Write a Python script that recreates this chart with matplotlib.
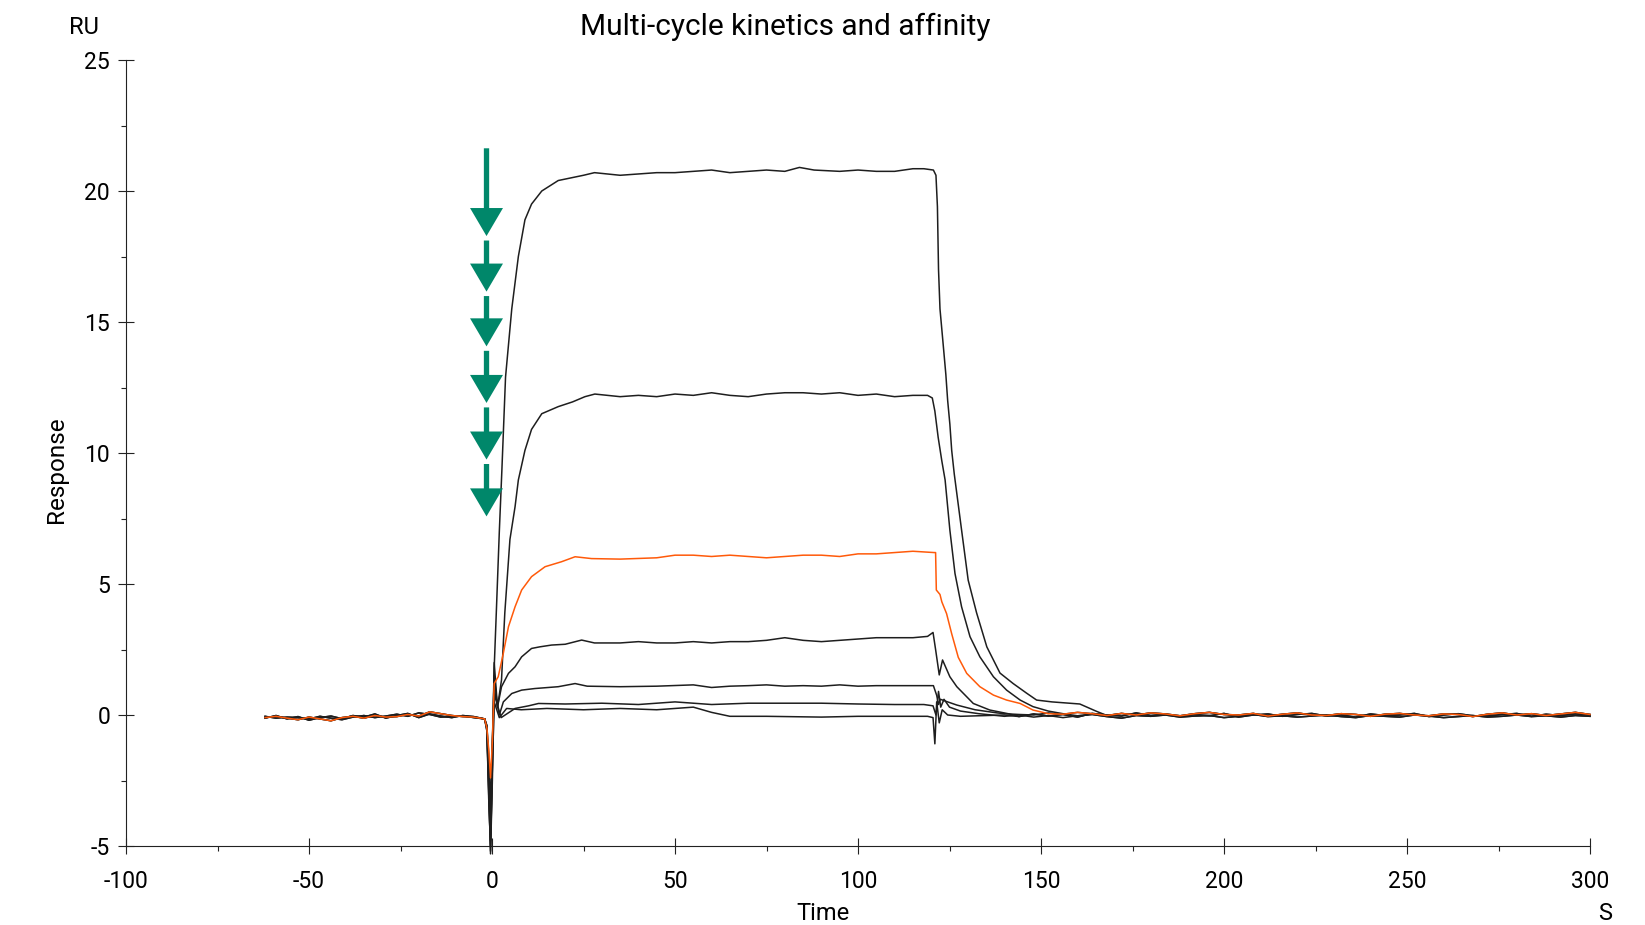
import matplotlib.pyplot as plt
import numpy as np

plt.rcParams['font.family'] = ['Roboto', 'DejaVu Sans']
plt.rcParams['axes.unicode_minus'] = False

# shared baseline before injection (noisy variants)
pre_t = list(range(-62, -4, 3))
pre_a = [-0.10, -0.05, -0.12, -0.18, -0.08, -0.15, -0.22, -0.10, -0.05, -0.12,
         -0.02, -0.08, -0.06, 0.02, -0.04, 0.12, 0.05, -0.02, -0.06, -0.08]
pre_b = [-0.05, -0.12, -0.08, -0.10, -0.15, -0.05, -0.12, -0.18, -0.08, -0.02,
         -0.10, -0.04, 0.03, -0.05, 0.08, 0.02, -0.08, -0.05, -0.03, -0.10]
pre_c = [-0.12, -0.02, -0.15, -0.06, -0.20, -0.10, -0.04, -0.14, -0.02, -0.08,
         0.04, -0.12, -0.02, 0.06, -0.10, 0.04, -0.04, -0.10, -0.02, -0.06]

# injection artefact
spike_t = [-2.0, -1.4, -0.9, -0.4, 0.1, 0.6]
spike_v = [
    [-0.15, -0.6, -3.0, -5.2, -2.0, 1.8],
    [-0.15, -0.5, -2.5, -4.8, -1.5, 2.0],
    [-0.15, -0.5, -1.3, -2.4, -1.0, 1.2],
    [-0.15, -0.4, -2.0, -4.0, -1.0, 1.5],
    [-0.15, -0.5, -2.8, -5.3, -2.5, 1.0],
    [-0.15, -0.4, -1.5, -3.5, -1.0, 0.8],
    [-0.15, -0.6, -3.2, -5.0, -2.0, 0.5],
]

# association + dissociation, one pair of lists per cycle (highest conc first)
c1_t = [1.2, 2.0, 2.7, 3.7, 5.4, 7.2, 9.0, 10.8, 13.6, 18.1, 25, 28, 35, 40, 45, 50,
        55, 60, 65, 70, 75, 80, 84, 88, 95, 100, 105, 110, 115, 118, 120.6,
        121.3, 121.7, 122.0, 122.4, 123.3, 124.0, 124.5, 125.1, 125.6, 126.3, 128.3,
        130.1, 132.4, 135.2, 138.8, 142.4, 146, 148.8, 153, 160.6, 165]
c1_v = [4.0, 7.0, 9.35, 12.9, 15.5, 17.5, 18.9, 19.5, 20.0, 20.4, 20.6, 20.7, 20.6,
        20.65, 20.7, 20.7, 20.75, 20.8, 20.7, 20.75, 20.8, 20.75, 20.9, 20.8, 20.75,
        20.8, 20.75, 20.75, 20.85, 20.85, 20.8,
        20.6, 19.4, 17.0, 15.5, 14.1, 13.0, 12.0, 11.1, 10.1, 9.2, 7.06,
        5.15, 3.9, 2.6, 1.6, 1.2, 0.84, 0.57, 0.5, 0.42, 0.15]

c2_t = [1.5, 2.6, 3.5, 4.9, 6.3, 7.2, 9.0, 10.8, 13.6, 18.1, 22, 25.4, 28.1, 35, 40,
        45, 50, 55, 60, 65, 70, 75, 80, 85, 90, 95, 100, 105, 110, 115, 119, 120.3,
        121.0, 121.9, 122.9, 123.8, 125.1, 126.5, 128.3, 130.6, 133.3, 137, 140.6,
        144.3, 147.8, 152, 156]
c2_v = [0.3, 1.34, 3.9, 6.7, 7.95, 8.97, 10.1, 10.9, 11.5, 11.77, 11.95, 12.15, 12.25,
        12.15, 12.2, 12.15, 12.25, 12.2, 12.3, 12.2, 12.15, 12.25, 12.3, 12.3, 12.25,
        12.3, 12.2, 12.25, 12.15, 12.2, 12.2, 12.1,
        11.6, 10.6, 9.7, 8.97, 7.06, 5.4, 4.13, 2.99, 2.22, 1.46, 0.95,
        0.57, 0.32, 0.15, 0.05]

c3_t = [1.7, 3.1, 4.5, 6.3, 8.1, 10.8, 14.5, 19, 22.7, 27.2, 35, 45, 50, 55, 60, 65,
        70, 75, 80, 85, 90, 95, 100, 105, 110, 115, 120.8,
        121.2, 121.4, 122.4, 122.9, 124.2, 125.6, 127.4, 129.7, 133.3, 137, 140.6,
        144.3, 147.8, 152]
c3_v = [1.46, 2.36, 3.37, 4.13, 4.77, 5.28, 5.66, 5.85, 6.04, 5.97, 5.95, 6.0, 6.1,
        6.1, 6.05, 6.1, 6.05, 6.0, 6.05, 6.1, 6.1, 6.05, 6.15, 6.15, 6.2, 6.25, 6.2,
        6.2, 4.77, 4.6, 4.32, 3.87, 3.1, 2.2, 1.59, 1.08, 0.76, 0.57,
        0.44, 0.19, 0.05]

c4_t = [1.5, 2.6, 4.5, 6.3, 8.1, 10.8, 13, 16.3, 20, 24.5, 28, 35, 40, 45, 50, 55, 60,
        65, 70, 75, 80, 85, 90, 95, 100, 105, 110, 115, 119, 120.5,
        121.2, 122.2, 123.1, 125.1, 127, 131.5, 136, 141]
c4_v = [0.3, 1.08, 1.59, 1.84, 2.22, 2.54, 2.6, 2.67, 2.7, 2.86, 2.75, 2.75, 2.8, 2.75,
        2.75, 2.8, 2.75, 2.8, 2.8, 2.85, 2.95, 2.85, 2.8, 2.85, 2.9, 2.95, 2.95, 2.95,
        3.0, 3.15,
        2.5, 1.53, 2.1, 1.46, 1.08, 0.44, 0.19, 0.05]

c5_t = [2.0, 3.1, 5.4, 8.1, 11.7, 18.1, 22.7, 26, 35, 45, 55, 60, 65, 70, 75, 80, 85,
        90, 95, 100, 105, 110, 115, 120.6,
        121.5, 122.0, 122.5, 124.5, 127, 132, 138]
c5_v = [0.0, 0.5, 0.82, 0.95, 1.01, 1.08, 1.2, 1.1, 1.08, 1.1, 1.15, 1.05, 1.1, 1.12,
        1.15, 1.1, 1.12, 1.1, 1.15, 1.1, 1.12, 1.12, 1.12, 1.12,
        0.75, 0.4, 0.6, 0.5, 0.38, 0.2, 0.08]

c6_t = [2.5, 6.3, 10, 12.7, 20, 30, 40, 50, 60, 70, 80, 90, 100, 110, 118, 120.5,
        121.3, 122.0, 122.6, 123.5, 125, 128, 133]
c6_v = [-0.1, 0.25, 0.35, 0.44, 0.42, 0.45, 0.4, 0.5, 0.4, 0.45, 0.45, 0.45, 0.42,
        0.4, 0.4, 0.35,
        0.0, 0.9, 0.3, 0.6, 0.3, 0.15, 0.05]

c7_t = [2.0, 4, 8, 15, 25, 35, 45, 55, 60, 65, 75, 90, 100, 110, 119, 120.5,
        121.0, 121.5, 122.2, 123, 124.5, 128]
c7_v = [-0.1, 0.25, 0.2, 0.25, 0.2, 0.25, 0.2, 0.3, 0.1, -0.05, -0.05, -0.08, -0.05,
        -0.05, -0.05, -0.1,
        -1.1, 0.5, -0.3, 0.2, 0.0, -0.05]

# shared baseline after dissociation (noisy variants)
post_t = list(range(140, 301, 4))
post_a = [0.05, 0.02, 0.0, 0.08, 0.03, 0.10, 0.05, -0.02, 0.06, 0.0, 0.08, 0.04,
          -0.03, 0.05, 0.10, 0.02, 0.0, 0.06, -0.04, 0.03, 0.08, 0.0, -0.02, 0.05,
          0.02, -0.05, 0.03, 0.06, 0.0, -0.03, 0.04, 0.02, -0.06, 0.03, 0.08, 0.0,
          0.05, -0.02, 0.04, 0.10, 0.02]
post_b = [-0.05, 0.0, -0.08, -0.02, -0.10, -0.03, 0.02, -0.06, -0.12, -0.02, -0.05,
          0.0, -0.08, -0.04, -0.02, -0.10, -0.05, 0.02, -0.06, -0.03, -0.08, -0.04,
          0.0, -0.06, -0.10, -0.02, -0.05, -0.08, 0.0, -0.04, -0.10, -0.06, -0.02,
          -0.08, -0.05, 0.0, -0.06, -0.03, -0.08, -0.02, -0.05]
post_c = [0.0, -0.06, 0.04, -0.04, 0.02, -0.08, 0.06, 0.0, -0.04, 0.08, -0.02, 0.03,
          -0.06, 0.02, -0.03, 0.06, -0.08, 0.0, 0.04, -0.05, 0.02, 0.06, -0.04, 0.0,
          -0.08, 0.04, -0.02, 0.0, 0.06, -0.06, 0.0, 0.05, -0.03, -0.04, 0.02, 0.06,
          -0.05, 0.03, -0.02, 0.04, 0.0]

cycles = [(c1_t, c1_v), (c2_t, c2_v), (c3_t, c3_v), (c4_t, c4_v),
          (c5_t, c5_v), (c6_t, c6_v), (c7_t, c7_v)]
colors = ['#1e1e1e', '#1e1e1e', '#ff5a0a', '#1e1e1e', '#1e1e1e', '#1e1e1e', '#1e1e1e']
pre_sets = [pre_a, pre_b, pre_a, pre_c, pre_a, pre_b, pre_c]
post_sets = [post_a, post_b, post_a, post_c, post_a, post_b, post_c]

# injection arrows (tip / tail in RU)
arrow_tips = [18.28, 16.16, 14.07, 11.91, 9.75, 7.58]
arrow_top = 21.63
arrow_t = -1.5

fig = plt.figure(figsize=(16.45, 9.25), dpi=100)
ax = fig.add_axes([126 / 1645, 1 - 846 / 925, (1590 - 126) / 1645, (846 - 60) / 925])

# orange last so it sits on top
order = [0, 1, 3, 4, 5, 6, 2]
for i in order:
    ct, cv = cycles[i]
    tail_t = [t for t in post_t if t > ct[-1]]
    tail_v = [v for t, v in zip(post_t, post_sets[i]) if t > ct[-1]]
    tt = list(pre_t) + spike_t + list(ct) + tail_t
    vv = list(pre_sets[i]) + spike_v[i] + list(cv) + tail_v
    ax.plot(tt, vv, color=colors[i], lw=1.1, clip_on=False, zorder=3)

start = arrow_top
for tip in arrow_tips:
    ax.arrow(arrow_t, start, 0, tip - start, width=1.45, head_width=9.0,
             head_length=1.07, length_includes_head=True, color='#00876a',
             lw=0, zorder=4)
    start = tip - 0.17

ax.set_xlim(-100, 300)
ax.set_ylim(-5, 25)
ax.set_xticks(range(-100, 301, 50))
ax.set_yticks(range(-5, 26, 5))
ax.set_xticks(range(-75, 300, 50), minor=True)
ax.set_yticks(np.arange(-2.5, 25, 5), minor=True)
ax.spines['top'].set_visible(False)
ax.spines['right'].set_visible(False)
for s in ['left', 'bottom']:
    ax.spines[s].set_linewidth(0.8)
    ax.spines[s].set_color('#222222')
ax.tick_params(which='major', direction='inout', length=11, width=0.8,
               labelsize=16.5, color='#222222')
ax.tick_params(which='minor', direction='out', length=3.5, width=0.8, color='#222222')
ax.tick_params(axis='x', which='major', pad=12)
ax.tick_params(axis='y', which='major', pad=6)

fig.text(785 / 1645, 1 - 27 / 925, 'Multi-cycle kinetics and affinity',
         ha='center', va='center', fontsize=21.5)
fig.text(84 / 1645, 1 - 27 / 925, 'RU', ha='center', va='center', fontsize=17)
fig.text(56 / 1645, 1 - 470 / 925, 'Response', ha='center', va='center',
         rotation=90, fontsize=17.5)
fig.text(823 / 1645, 1 - 913 / 925, 'Time', ha='center', va='center', fontsize=17)
fig.text(1605 / 1645, 1 - 913 / 925, 'S', ha='center', va='center', fontsize=17)

fig.savefig('out.png', dpi=100)
